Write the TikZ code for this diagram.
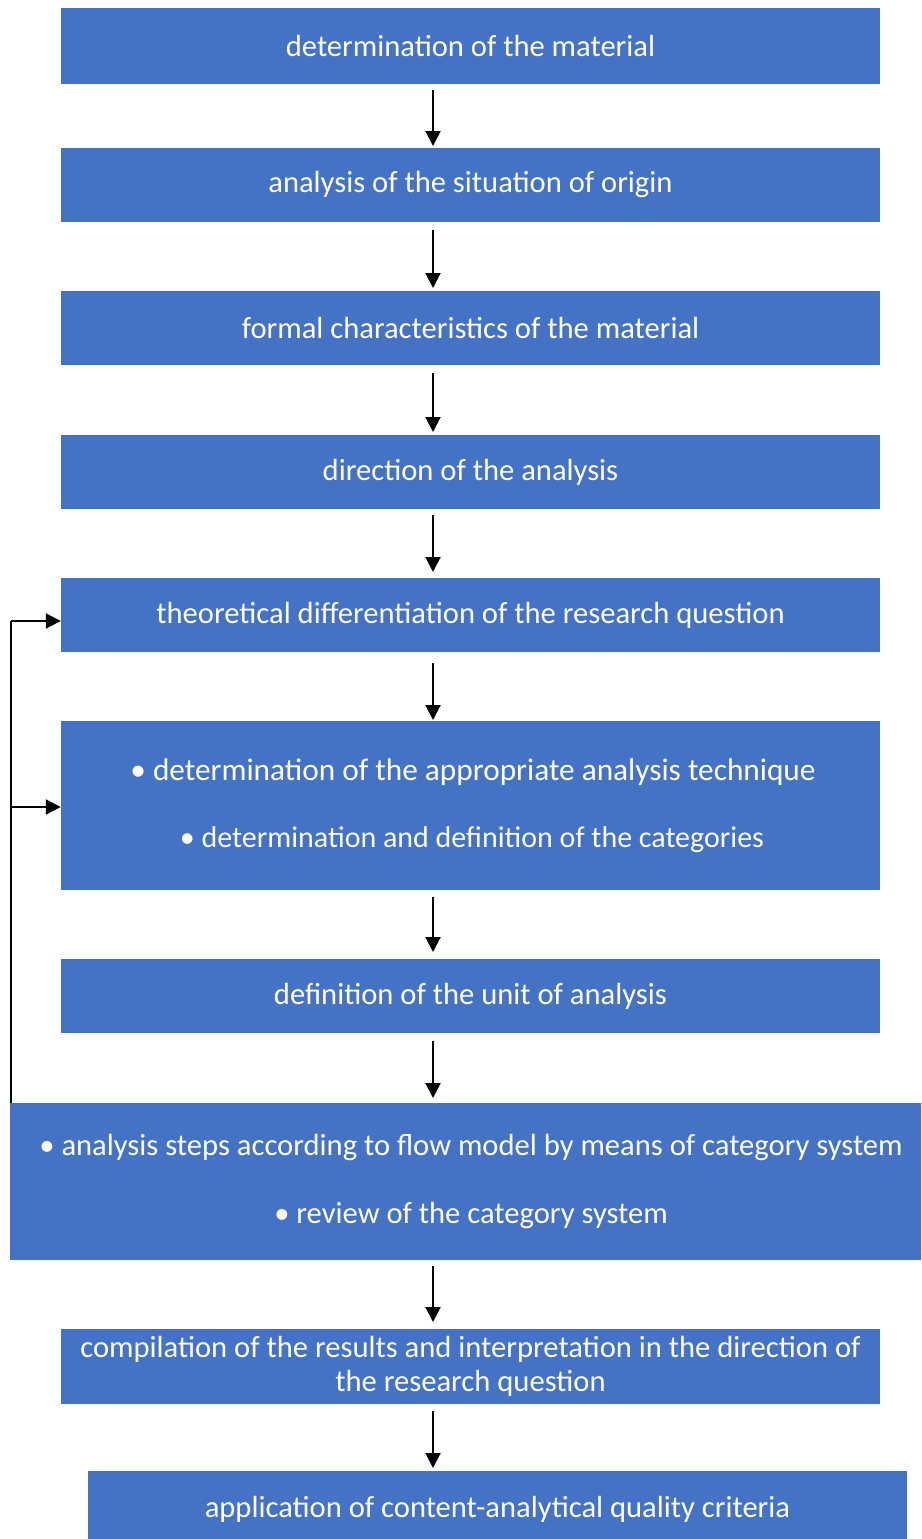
\documentclass[tikz,border=0pt]{standalone}
\usepackage{fontspec}
\setmainfont{Carlito}
\usetikzlibrary{arrows.meta}
\definecolor{stepblue}{HTML}{4472C4}
\tikzset{
  stepbox/.style={fill=stepblue, draw=none, text=white, align=center,
    inner sep=0pt, font=\fontsize{30.6}{34}\selectfont},
  flow/.style={line width=2pt, -{Triangle[width=15pt,length=15pt]}},
}
\begin{document}
\begin{tikzpicture}[x=1pt,y=-1pt]
\useasboundingbox (0,0) rectangle (921,1539);
\begin{scope}
\clip (0,0) rectangle (921,1539);
\node[stepbox, minimum width=819pt, minimum height=76pt] (b1) at (470.5,46) {determination of the material};
\node[stepbox, minimum width=819pt, minimum height=74pt] (b2) at (470.5,185) {analysis of the situation of origin};
\node[stepbox, minimum width=819pt, minimum height=74pt] (b3) at (470.5,328) {formal characteristics of the material};
\node[stepbox, minimum width=819pt, minimum height=74pt] (b4) at (470.5,472) {direction of the analysis};
\node[stepbox, minimum width=819pt, minimum height=74pt] (b5) at (470.5,615) {theoretical differentiation of the research question};
\node[stepbox, minimum width=819pt, minimum height=169pt] (b6) at (470.5,805.5) {};
\node[stepbox] (b6a) at (473,772) {\fontsize{31.3}{36}\selectfont • determination of the appropriate analysis technique};
\node[stepbox] (b6b) at (472,840) {\fontsize{30}{36}\selectfont • determination and definition of the categories};
\node[stepbox, minimum width=819pt, minimum height=74pt] (b7) at (470.5,996) {definition of the unit of analysis};
\node[stepbox, minimum width=912pt, minimum height=157pt] (b8) at (466,1181.5) {};
\node[stepbox] (b8a) at (471,1147) {• analysis steps according to flow model by means of category system};
\node[stepbox] (b8b) at (471,1215) {• review of the category system};
\node[stepbox, minimum width=819pt, minimum height=75pt] (b9) at (470.5,1366) {compilation of the results and interpretation in the direction of\\the research question};
\node[stepbox, minimum width=819pt, minimum height=76pt] (b10) at (497.5,1509) {application of content-analytical quality criteria};
\end{scope}
% downward steps
\draw[flow] (433,90) -- (433,146);
\draw[flow] (433,230) -- (433,288);
\draw[flow] (433,373) -- (433,432);
\draw[flow] (433,515) -- (433,572);
\draw[flow] (433,663) -- (433,720);
\draw[flow] (433,897) -- (433,952);
\draw[flow] (433,1041) -- (433,1098);
\draw[flow] (433,1266) -- (433,1322);
\draw[flow] (433,1411) -- (433,1468);
% feedback loop from the analysis steps
\coordinate (fb) at (11,1103);
\coordinate (fbtop) at (11,621);
\coordinate (fbmid) at (11,807);
\draw[line width=2pt] (fb) -- (fbtop);
\draw[flow] (fbtop) -- (b5.west |- fbtop);
\draw[flow] (fbmid) -- (b6.west |- fbmid);
\end{tikzpicture}
\end{document}
